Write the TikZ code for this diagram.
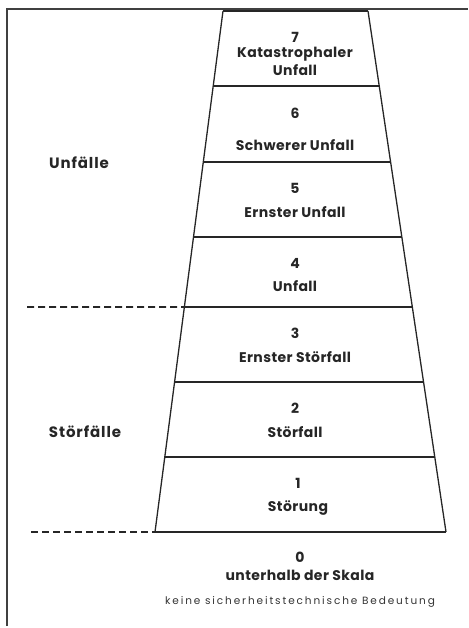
\documentclass[tikz,border=0pt]{standalone}
\usepackage{fontspec}
\setmainfont{Poppins}
\begin{document}
\begin{tikzpicture}[x=1pt,y=-1pt,
  frame/.style={line width=1.6pt,draw=black!75},
  edge/.style={line width=1.3pt,draw=black!85},
  sep/.style={line width=1.5pt,draw=black!85},
  dashsep/.style={line width=1.8pt,draw=black!85,dash pattern=on 7pt off 4pt},
  lbl/.style={font=\bfseries\fontsize{14}{16}\selectfont\addfontfeature{LetterSpace=3},inner sep=0pt,text=black!85},
  grp/.style={font=\bfseries\fontsize{15}{17}\selectfont\addfontfeature{LetterSpace=6},inner sep=0pt,text=black!85},
  small/.style={font=\fontsize{10.5}{12}\selectfont\addfontfeature{LetterSpace=18},inner sep=0pt,text=black!80}]
\useasboundingbox (0,0) rectangle (468,628);
% frame
\draw[frame] (7,626) -- (7,9) -- (468,9);
% trapezoid corners
\coordinate (tl) at (223,11);
\coordinate (tr) at (368,11);
\coordinate (bl) at (155,532);
\coordinate (br) at (446,532);
\draw[edge] (tl) -- (bl);
\draw[edge] (tr) -- (br);
\draw[sep] (tl) -- (tr);
% separators
\foreach \yy/\nm in {86/a,162/b,237/c,307/d,382/e,457/f}{
  \path (tl) -- (bl) coordinate[pos={(\yy-11)/521}] (l\nm);
  \path (tr) -- (br) coordinate[pos={(\yy-11)/521}] (r\nm);
  \draw[sep] (l\nm) -- (r\nm);
}
\draw[sep] (bl) -- (br);
\coordinate (dd) at (27,307);
\coordinate (de) at (31,532);
\draw[dashsep] (dd) -- (ld);
\draw[dashsep] (de) -- (bl);
% labels
\node[lbl] (n7) at (295,37) {7};
\node[lbl] (t7a) at (295,54) {Katastrophaler};
\node[lbl] (t7b) at (295,70) {Unfall};
\node[lbl] (n6) at (295,113) {6};
\node[lbl] (t6) at (295,145) {Schwerer Unfall};
\node[lbl] (n5) at (295,188) {5};
\node[lbl] (t5) at (295,212) {Ernster Unfall};
\node[lbl] (n4) at (295,263) {4};
\node[lbl] (t4) at (295,286) {Unfall};
\node[lbl] (n3) at (295,333) {3};
\node[lbl] (t3) at (295,357) {Ernster Störfall};
\node[lbl] (n2) at (295,408) {2};
\node[lbl] (t2) at (295,432) {Störfall};
\node[lbl] (n1) at (298,483) {1};
\node[lbl] (t1) at (298,508) {Störung};
\node[lbl] (n0) at (300,557) {0};
\node[lbl] (t0) at (300,575) {unterhalb der Skala};
\node[small] (t0b) at (300,602) {keine sicherheitstechnische Bedeutung};
\node[grp] (gu) at (79,163) {Unfälle};
\node[grp] (gs) at (85,432) {Störfälle};
\end{tikzpicture}
\end{document}
